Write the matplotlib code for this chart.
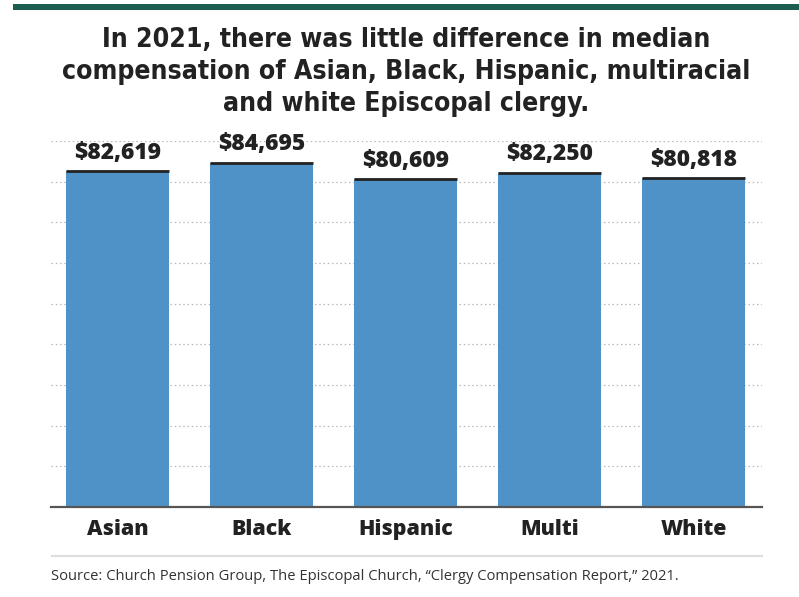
import matplotlib
matplotlib.use("Agg")
import matplotlib.pyplot as plt
from matplotlib.patches import Rectangle
from matplotlib.lines import Line2D

# Median clergy compensation by race/ethnicity, 2021
categories = ["Asian", "Black", "Hispanic", "Multi", "White"]
compensation = [82619, 84695, 80609, 82250, 80818]
grid_values = [10000, 20000, 30000, 40000, 50000, 60000, 70000, 80000, 90000]

title = ("In 2021, there was little difference in median\n"
         "compensation of Asian, Black, Hispanic, multiracial\n"
         "and white Episcopal clergy.")
source = ("Source: Church Pension Group, The Episcopal Church, "
          "\u201cClergy Compensation Report,\u201d 2021.")

BAR_BLUE = "#4f92c8"
CAP_DARK = "#222222"
TEXT_DARK = "#222222"
GREEN = "#1b5e50"

W, H = 799, 597
fig = plt.figure(figsize=(W / 100, H / 100), dpi=100)

def fx(px):
    return px / W

def fy(py):
    return 1 - py / H

# Top accent rule
fig.add_artist(Rectangle((fx(13), fy(9.5)), fx(799 - 13), 5.5 / H,
                         transform=fig.transFigure, facecolor=GREEN,
                         edgecolor="none"))

# Title
fig.text(fx(406), fy(72), title, ha="center", va="center", ma="center",
         fontsize=19.1, fontweight="bold", fontstretch="condensed",
         color=TEXT_DARK, family="DejaVu Sans", linespacing=1.29)

# Plot area: baseline at y=507px, 90k gridline at y=141px
ax = fig.add_axes([fx(51), fy(507), fx(762 - 51), (507 - 141) / H])
ax.set_xlim(-0.462, 4.476)
ax.set_ylim(0, 90000)

for g in grid_values:
    ax.axhline(g, color="#b8b8b8", linewidth=0.9, linestyle=(0, (1.2, 2.2)),
               zorder=0)

bar_width = 0.715
xs = list(range(len(categories)))
ax.bar(xs, compensation, width=bar_width, color=BAR_BLUE, zorder=2)

for x, v in zip(xs, compensation):
    ax.plot([x - bar_width / 2, x + bar_width / 2], [v, v],
            color=CAP_DARK, linewidth=2.0, solid_capstyle="butt", zorder=3)
    ax.annotate(f"${v:,}", (x, v), xytext=(0, 4.5), textcoords="offset points",
                ha="center", va="bottom", fontsize=16.4, fontweight="heavy",
                color=TEXT_DARK, family="Open Sans")

ax.axhline(0, color="#555555", linewidth=1.6, zorder=4, clip_on=False)

ax.set_xticks(xs)
ax.set_xticklabels(categories, fontsize=15.4, fontweight="heavy",
                   color=TEXT_DARK, family="Open Sans")
ax.tick_params(axis="x", length=0, pad=8.5)
ax.set_yticks([])
for s in ax.spines.values():
    s.set_visible(False)

# Footer rule and source line
fig.add_artist(Line2D([fx(52), fx(762)], [fy(556), fy(556)],
                      transform=fig.transFigure, color="#dddddd",
                      linewidth=1.5))
fig.text(fx(51), fy(577), source, ha="left", va="center", fontsize=10.6,
         color="#333333", family="Open Sans")

fig.savefig("out.png", dpi=100)
